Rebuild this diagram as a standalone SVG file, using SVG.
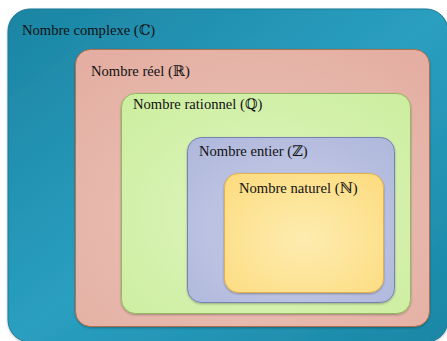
<svg xmlns="http://www.w3.org/2000/svg" width="447" height="341" viewBox="0 0 447 341">
  <defs>
    <linearGradient id="gC" x1="0" y1="0" x2="1" y2="1">
      <stop offset="0" stop-color="#1c84a3"/>
      <stop offset="0.5" stop-color="#2a9fc0"/>
      <stop offset="1" stop-color="#1a86a5"/>
    </linearGradient>
    <radialGradient id="gR" cx="0.5" cy="0.6" r="0.7">
      <stop offset="0" stop-color="#ecc4bb"/>
      <stop offset="1" stop-color="#e4afa2"/>
    </radialGradient>
    <radialGradient id="gQ" cx="0.5" cy="0.55" r="0.7">
      <stop offset="0" stop-color="#e0f5c0"/>
      <stop offset="1" stop-color="#cdeea0"/>
    </radialGradient>
    <radialGradient id="gZ" cx="0.5" cy="0.55" r="0.7">
      <stop offset="0" stop-color="#c8cee8"/>
      <stop offset="1" stop-color="#b0b8dc"/>
    </radialGradient>
    <radialGradient id="gN" cx="0.5" cy="0.55" r="0.7">
      <stop offset="0" stop-color="#fdecb0"/>
      <stop offset="1" stop-color="#fddc80"/>
    </radialGradient>
    <filter id="shadow" x="-10%" y="-10%" width="120%" height="125%">
      <feGaussianBlur in="SourceAlpha" stdDeviation="1.2"/>
      <feOffset dx="0" dy="1.2" result="b"/>
      <feComponentTransfer><feFuncA type="linear" slope="0.3"/></feComponentTransfer>
      <feMerge><feMergeNode/><feMergeNode in="SourceGraphic"/></feMerge>
    </filter>
  </defs>
  <style>
    .lbl { font-family: "Liberation Serif", "DejaVu Serif", serif; font-size: 14.6px; fill: #111; }
    .box { filter: url(#shadow); stroke-width: 1; }
  </style>

  <rect width="447" height="341" fill="#ffffff"/>

  <g id="complexe">
    <rect class="box" x="8" y="9" width="440" height="333" rx="22" fill="url(#gC)" stroke="#1a7a96"/>
    <text class="lbl" x="22" y="35">Nombre complexe (ℂ)</text>
  </g>

  <g id="reel">
    <rect class="box" x="75.5" y="49.5" width="354" height="277" rx="15" fill="url(#gR)" stroke="#b0704e"/>
    <text class="lbl" x="91" y="76">Nombre réel (ℝ)</text>
  </g>

  <g id="rationnel">
    <rect class="box" x="121.5" y="93.5" width="289" height="220" rx="14" fill="url(#gQ)" stroke="#94b862"/>
    <text class="lbl" x="133" y="109">Nombre rationnel (ℚ)</text>
  </g>

  <g id="entier">
    <rect class="box" x="187.5" y="137.5" width="207" height="165" rx="14" fill="url(#gZ)" stroke="#7582b4"/>
    <text class="lbl" x="199" y="156">Nombre entier (ℤ)</text>
  </g>

  <g id="naturel">
    <rect class="box" x="224.5" y="173.5" width="159" height="119" rx="14" fill="url(#gN)" stroke="#e3b04a"/>
    <text class="lbl" x="239" y="193">Nombre naturel (ℕ)</text>
  </g>

  <g id="connectors"/>
</svg>
